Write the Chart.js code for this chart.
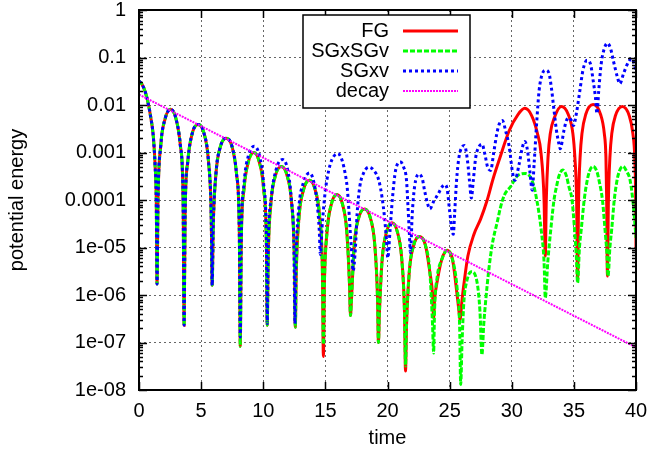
<!DOCTYPE html>
<html lang="en">
<head>
  <meta charset="UTF-8" />
  <title>potential energy vs time</title>
  <script src="https://cdn.jsdelivr.net/npm/chart.js"></script>
  <style>
    html, body {
      margin: 0;
      padding: 0;
      background: #fff;
    }
    #chart-container {
      width: 650px;
      height: 453px;
    }
  </style>
</head>
<body>
  <div id="chart-container">
    <canvas id="energyChart"></canvas>
  </div>

  <script>
    // values (time, potential energy)
    const fgTime = [
      0, 0.25, 0.5, 0.75, 0.95, 1.15, 1.3, 1.39, 1.45,
      1.53, 1.75, 2.1, 2.54, 2.98, 3.33, 3.55, 3.63,
      3.71, 3.93, 4.28, 4.76, 5.24, 5.59, 5.81, 5.89,
      5.97, 6.19, 6.54, 7.02, 7.5, 7.85, 8.07, 8.15,
      8.23, 8.45, 8.8, 9.24, 9.68, 10.03, 10.25, 10.32,
      10.4, 10.62, 10.97, 11.45, 11.93, 12.28, 12.5, 12.58,
      12.66, 12.88, 13.23, 13.71, 14.19, 14.54, 14.76, 14.84,
      14.92, 15.14, 15.49, 15.93, 16.37, 16.72, 16.94, 17.02,
      17.1, 17.32, 17.67, 18.15, 18.63, 18.98, 19.2, 19.27,
      19.35, 19.57, 19.92, 20.36, 20.8, 21.15, 21.37, 21.45,
      21.53, 21.75, 22.1, 22.58, 23.06, 23.41, 23.63, 23.71,
      23.79, 24.01, 24.36, 24.8, 25.24, 25.5, 25.75, 25.83,
      26.0, 26.15, 26.47, 26.96, 27.5, 28.0, 28.5, 29.0, 29.8, 30.5, 31.05, 31.6, 32.07, 32.35, 32.6, 32.7,
      32.78, 32.92, 33.1, 33.45, 34.0, 34.55, 34.92, 35.08, 35.22, 35.3,
      35.38, 35.5, 35.65, 35.95, 36.55, 37.15, 37.45, 37.58, 37.64, 37.7,
      37.78, 37.9, 38.05, 38.35, 38.9, 39.45, 39.75, 39.9, 39.97, 40
    ];
    const fgEnergy = [
      3.2e-2, 2.7e-2, 1.9e-2, 1.05e-2, 5.4e-3, 2.2e-3, 5.0e-4, 1.0e-4, 1.7e-6,
      1.0e-4, 1.4e-3, 5.1e-3, 8.1e-3, 5.1e-3, 1.4e-3, 1.0e-4, 2.3e-7,
      4.9e-5, 6.6e-4, 2.5e-3, 3.9e-3, 2.5e-3, 6.6e-4, 4.9e-5, 1.6e-6,
      2.6e-5, 3.5e-4, 1.3e-3, 2.0e-3, 1.3e-3, 3.5e-4, 2.6e-5, 8.3e-8,
      1.3e-5, 1.7e-4, 6.3e-4, 1.0e-3, 6.3e-4, 1.7e-4, 1.3e-5, 2.3e-7,
      6.5e-6, 8.7e-5, 3.2e-4, 5.1e-4, 3.2e-4, 8.7e-5, 6.5e-6, 2.1e-7,
      3.2e-6, 4.4e-5, 1.6e-4, 2.6e-4, 1.6e-4, 4.4e-5, 3.2e-6, 5.1e-8,
      1.7e-6, 2.2e-5, 8.3e-5, 1.3e-4, 8.3e-5, 2.2e-5, 1.7e-6, 3.7e-7,
      8.1e-7, 1.1e-5, 4.1e-5, 6.5e-5, 4.1e-5, 1.1e-5, 8.1e-7, 1.0e-7,
      4.2e-7, 5.6e-6, 2.1e-5, 3.3e-5, 2.1e-5, 5.6e-6, 4.2e-7, 2.5e-8,
      2.2e-7, 3.0e-6, 1.1e-5, 1.7e-5, 1.1e-5, 3.0e-6, 1.0e-6, 3.3e-7,
      7.9e-7, 2.0e-6, 5.5e-6, 8.7e-6, 5.5e-6, 1.7e-6, 4.6e-7, 3.0e-7,
      7.9e-7, 1.7e-6, 6.6e-6, 1.9e-5, 4.0e-5, 9.5e-5, 2.8e-4, 7.1e-4, 2.9e-3, 6.3e-3, 8.5e-3, 6.0e-3, 2.5e-3, 1.0e-3, 1.0e-4, 6.6e-6,
      1.0e-4, 7.9e-4, 2.5e-3, 5.6e-3, 9.3e-3, 6.3e-3, 2.5e-3, 7.9e-4, 1.0e-4, 2.0e-6,
      1.0e-4, 7.9e-4, 2.5e-3, 6.3e-3, 1.02e-2, 6.3e-3, 2.5e-3, 7.9e-4, 1.0e-4, 2.5e-6,
      1.0e-4, 7.9e-4, 2.5e-3, 6.0e-3, 9.3e-3, 6.0e-3, 2.5e-3, 7.9e-4, 1.26e-4, 1.0e-5
    ];

    const sgsgTime = [
      0, 0.25, 0.5, 0.75, 0.95, 1.15, 1.3, 1.39, 1.45,
      1.53, 1.75, 2.1, 2.54, 2.98, 3.33, 3.55, 3.63,
      3.71, 3.93, 4.28, 4.76, 5.24, 5.59, 5.81, 5.89,
      5.97, 6.19, 6.54, 7.02, 7.5, 7.85, 8.07, 8.15,
      8.23, 8.45, 8.8, 9.24, 9.68, 10.03, 10.25, 10.32,
      10.4, 10.62, 10.97, 11.45, 11.93, 12.28, 12.5, 12.58,
      12.66, 12.88, 13.23, 13.71, 14.19, 14.54, 14.76, 14.84,
      14.92, 15.14, 15.49, 15.93, 16.37, 16.72, 16.94, 17.02,
      17.1, 17.32, 17.67, 18.15, 18.63, 18.98, 19.2, 19.27,
      19.35, 19.57, 19.92, 20.36, 20.8, 21.15, 21.37, 21.45,
      21.53, 21.75, 22.1, 22.58, 23.06, 23.41, 23.63, 23.71,
      23.79, 24.01, 24.36, 24.8, 25.24, 25.59, 25.81, 25.89,
      26.0, 26.15, 26.37, 26.75, 27.2, 27.44, 27.6,
      27.75, 27.9, 28.17, 28.44, 28.85, 29.1, 29.4, 29.9, 30.45, 31.1, 31.65, 32.05, 32.4, 32.6, 32.7,
      32.9, 33.15, 33.4, 33.6, 33.8, 34.1, 34.4, 34.6, 34.85, 35.05, 35.2, 35.3,
      35.45, 35.6, 35.83, 36.05, 36.25, 36.55, 36.85, 37.05, 37.3, 37.5, 37.65, 37.75,
      37.9, 38.05, 38.25, 38.45, 38.65, 38.95, 39.25, 39.5, 39.7, 39.85, 40
    ];
    const sgsgEnergy = [
      3.2e-2, 2.7e-2, 1.9e-2, 1.05e-2, 5.4e-3, 2.2e-3, 5.0e-4, 1.0e-4, 1.7e-6,
      1.0e-4, 1.4e-3, 5.1e-3, 8.1e-3, 5.1e-3, 1.4e-3, 1.0e-4, 2.3e-7,
      4.9e-5, 6.6e-4, 2.5e-3, 3.9e-3, 2.5e-3, 6.6e-4, 4.9e-5, 1.6e-6,
      2.6e-5, 3.5e-4, 1.3e-3, 2.0e-3, 1.3e-3, 3.5e-4, 2.6e-5, 8.3e-8,
      1.3e-5, 1.7e-4, 6.3e-4, 1.0e-3, 6.3e-4, 1.7e-4, 1.3e-5, 2.3e-7,
      6.5e-6, 8.7e-5, 3.2e-4, 5.1e-4, 3.2e-4, 8.7e-5, 6.5e-6, 2.1e-7,
      3.2e-6, 4.4e-5, 1.6e-4, 2.6e-4, 1.6e-4, 4.4e-5, 3.2e-6, 9.1e-8,
      1.7e-6, 2.2e-5, 8.3e-5, 1.3e-4, 8.3e-5, 2.2e-5, 1.7e-6, 3.7e-7,
      8.1e-7, 1.1e-5, 4.1e-5, 6.5e-5, 4.1e-5, 1.1e-5, 8.1e-7, 1.0e-7,
      4.2e-7, 5.6e-6, 2.1e-5, 3.3e-5, 2.1e-5, 5.6e-6, 4.2e-7, 3.2e-8,
      2.2e-7, 3.0e-6, 1.1e-5, 1.7e-5, 1.1e-5, 3.0e-6, 2.2e-7, 6.0e-8,
      5.0e-7, 2.5e-6, 5.5e-6, 8.7e-6, 5.5e-6, 1.5e-6, 2.0e-7, 1.3e-8,
      1.0e-7, 7.4e-7, 1.9e-6, 3.1e-6, 1.9e-6, 4.6e-7, 5.5e-8,
      2.5e-7, 7.4e-7, 3.7e-6, 1.2e-5, 3.6e-5, 7.1e-5, 1.26e-4, 1.9e-4, 3.2e-4, 3.6e-4, 2.5e-4, 8.9e-5, 2.0e-5, 5.0e-6, 8.7e-7,
      5.0e-6, 2.5e-5, 1.0e-4, 1.9e-4, 3.2e-4, 4.3e-4, 3.2e-4, 1.9e-4, 1.0e-4, 2.5e-5, 6.3e-6, 1.8e-6,
      1.0e-5, 2.5e-5, 1.0e-4, 2.4e-4, 4.0e-4, 5.1e-4, 4.0e-4, 2.4e-4, 1.0e-4, 2.5e-5, 7.9e-6, 2.5e-6,
      1.0e-5, 2.5e-5, 1.0e-4, 2.4e-4, 4.0e-4, 5.1e-4, 4.0e-4, 2.8e-4, 1.26e-4, 5.0e-5, 1.6e-5
    ];

    const sgxvTime = [
      0, 0.25, 0.5, 0.75, 0.95, 1.15, 1.3, 1.39, 1.45,
      1.53, 1.75, 2.1, 2.54, 2.98, 3.33, 3.55, 3.63,
      3.71, 3.93, 4.28, 4.76, 5.24, 5.59, 5.81, 5.89,
      5.97, 6.19, 6.54, 7.02, 7.5, 7.85, 8.07, 8.15,
      8.23, 8.45, 8.8, 9.27, 9.7, 10.03, 10.25, 10.32,
      10.4, 10.65, 11.05, 11.55, 11.95, 12.25, 12.47, 12.55,
      12.63, 12.85, 13.25, 13.75, 14.1, 14.35, 14.5, 14.6,
      14.73, 14.86, 15.0, 15.27, 15.54, 16.0, 16.35, 16.6, 16.75, 16.88, 17.0, 17.15, 17.23,
      17.42, 17.55, 17.77, 18.1, 18.5, 18.9, 19.3, 19.57, 19.76, 19.92, 20.02,
      20.2, 20.4, 20.65, 21.05, 21.3, 21.53, 21.64, 21.75, 21.85,
      21.99, 22.18, 22.53, 22.8, 22.98, 23.2, 23.41,
      23.73, 24.05, 24.4, 24.6, 24.8, 25.0, 25.2, 25.3,
      25.4, 25.56, 25.75, 26.0, 26.2, 26.45, 26.6, 26.75, 26.9, 27.1, 27.35, 27.6, 27.85, 28.05, 28.3,
      28.55, 28.8, 29.0, 29.25, 29.5, 29.8, 30.05, 30.25, 30.6, 30.86, 31.05, 31.27, 31.45, 31.65,
      31.8, 32.0, 32.2, 32.47, 32.74, 33.0, 33.2, 33.4, 33.6, 33.8, 33.9,
      34.2, 34.4, 34.6, 34.8, 34.97, 35.2, 35.48, 35.73, 36.05, 36.33, 36.55, 36.73, 36.86,
      37.0, 37.2, 37.4, 37.7, 37.95, 38.2, 38.5, 38.7, 39.0, 39.4, 39.65, 40
    ];
    const sgxvEnergy = [
      3.2e-2, 2.7e-2, 1.9e-2, 1.05e-2, 5.4e-3, 2.2e-3, 5.0e-4, 1.0e-4, 1.7e-6,
      1.0e-4, 1.4e-3, 5.1e-3, 8.1e-3, 5.1e-3, 1.4e-3, 1.0e-4, 2.3e-7,
      4.9e-5, 6.6e-4, 2.5e-3, 3.9e-3, 2.5e-3, 6.6e-4, 4.9e-5, 1.6e-6,
      2.6e-5, 3.5e-4, 1.3e-3, 2.0e-3, 1.3e-3, 3.5e-4, 2.6e-5, 1.3e-7,
      1.6e-5, 2.2e-4, 8.5e-4, 1.35e-3, 8.5e-4, 2.2e-4, 1.6e-5, 2.5e-7,
      1.0e-5, 1.1e-4, 4.5e-4, 7.1e-4, 4.5e-4, 1.1e-4, 1.0e-5, 2.5e-7,
      5.0e-6, 6.3e-5, 2.4e-4, 3.7e-4, 2.2e-4, 7.9e-5, 2.5e-5, 7.1e-6,
      2.6e-5, 6.9e-5, 1.6e-4, 4.2e-4, 7.2e-4, 9.5e-4, 6.8e-4, 3.5e-4, 1.9e-4, 6.9e-5, 2.2e-5, 6.0e-6, 3.2e-6,
      1.0e-5, 5.0e-5, 1.9e-4, 3.8e-4, 4.9e-4, 4.2e-4, 2.6e-4, 1.1e-4, 4.3e-5, 1.4e-5, 6.0e-6,
      2.2e-5, 1.1e-4, 4.2e-4, 6.3e-4, 4.9e-4, 2.6e-4, 8.1e-5, 2.2e-5, 7.8e-6,
      5.0e-5, 1.9e-4, 3.5e-4, 2.8e-4, 1.6e-4, 8.9e-5, 6.5e-5,
      9.5e-5, 1.3e-4, 1.9e-4, 2.1e-4, 1.7e-4, 5.9e-5, 2.2e-5, 1.9e-5,
      5.0e-5, 2.6e-4, 7.9e-4, 1.3e-3, 1.4e-3, 6.3e-4, 2.5e-4, 1.1e-4, 2.5e-4, 7.9e-4, 1.3e-3, 1.5e-3, 8.9e-4, 5.0e-4, 4.2e-4,
      1.0e-3, 2.5e-3, 4.0e-3, 4.7e-3, 2.9e-3, 1.3e-3, 4.0e-4, 2.6e-4, 5.8e-4, 1.3e-3, 1.7e-3, 1.1e-3, 4.2e-4, 1.6e-4,
      5.8e-4, 4.0e-3, 2.0e-2, 4.6e-2, 5.4e-2, 4.6e-2, 2.2e-2, 7.8e-3, 2.9e-3, 1.5e-3, 1.2e-3,
      2.9e-3, 4.7e-3, 5.4e-3, 4.7e-3, 3.7e-3, 6.6e-3, 2.0e-2, 5.4e-2, 8.7e-2, 7.4e-2, 3.3e-2, 1.5e-2, 6.6e-3,
      2.0e-2, 7.4e-2, 0.14, 0.2, 0.155, 8.1e-2, 3.9e-2, 2.8e-2, 4.6e-2, 8.1e-2, 9.5e-2, 5.4e-2
    ];

    const decayTime = [0, 40];
    const decayEnergy = [1.66e-2, 7.9e-8];

    const seriesNames = ['FG', 'SGxSGv', 'SGxv', 'decay'];
    const yTickValues = [1, 0.1, 0.01, 0.001, 1e-4, 1e-5, 1e-6, 1e-7, 1e-8];
    const yTickLabels = ['1', '0.1', '0.01', '0.001', '0.0001', '1e-05', '1e-06', '1e-07', '1e-08'];

    const toPoints = (ts, es) => ts.map((t, i) => ({ x: t, y: es[i] }));

    Chart.defaults.font.family = "'Liberation Sans', Arial, sans-serif";
    Chart.defaults.font.size = 20;
    Chart.defaults.color = '#000';

    // gnuplot style frame: border, inward tics, boxed key
    const gnuplotFrame = {
      id: 'gnuplotFrame',
      afterDatasetsDraw(chart) {
        const { ctx, chartArea: a, scales: { x, y } } = chart;
        ctx.save();
        ctx.strokeStyle = '#000';
        ctx.lineWidth = 1.5;
        ctx.setLineDash([]);
        ctx.beginPath();
        for (let e = -8; e <= 0; e++) {
          for (let m = 1; m <= 9; m++) {
            const v = m * Math.pow(10, e);
            if (v > 1) break;
            const py = Math.round(y.getPixelForValue(v)) + 0.5;
            const len = m === 1 ? 8 : 4;
            ctx.moveTo(a.left, py); ctx.lineTo(a.left + len, py);
            ctx.moveTo(a.right, py); ctx.lineTo(a.right - len, py);
          }
        }
        x.ticks.forEach(t => {
          const px = Math.round(x.getPixelForValue(t.value)) + 0.5;
          ctx.moveTo(px, a.bottom); ctx.lineTo(px, a.bottom - 8);
          ctx.moveTo(px, a.top); ctx.lineTo(px, a.top + 8);
        });
        ctx.stroke();
        ctx.lineWidth = 2;
        ctx.strokeRect(a.left, a.top, a.right - a.left, a.bottom - a.top);

        // key box
        const bx = a.left + 164, by = a.top + 5, bw = 167, bh = 93;
        ctx.fillStyle = '#fff';
        ctx.fillRect(bx, by, bw, bh);
        ctx.lineWidth = 1.5;
        ctx.strokeRect(bx, by, bw, bh);
        ctx.font = "20px 'Liberation Sans', Arial, sans-serif";
        ctx.textAlign = 'right';
        ctx.textBaseline = 'middle';
        chart.data.datasets.forEach((ds, i) => {
          const ly = by + 16 + i * 20;
          ctx.fillStyle = '#000';
          ctx.fillText(ds.label, bx + 86, ly);
          ctx.strokeStyle = ds.borderColor;
          ctx.lineWidth = ds.borderWidth;
          ctx.setLineDash(ds.borderDash || []);
          ctx.beginPath();
          ctx.moveTo(bx + 100, ly);
          ctx.lineTo(bx + 155, ly);
          ctx.stroke();
        });
        ctx.restore();
      }
    };

    const ctx = document.getElementById('energyChart').getContext('2d');
    const chart = new Chart(ctx, {
      type: 'line',
      data: {
        datasets: [
          {
            label: seriesNames[0],
            data: toPoints(fgTime, fgEnergy),
            borderColor: '#ff0000',
            borderWidth: 3,
            order: 3
          },
          {
            label: seriesNames[1],
            data: toPoints(sgsgTime, sgsgEnergy),
            borderColor: '#00ff00',
            borderWidth: 3,
            borderDash: [5, 2],
            order: 2
          },
          {
            label: seriesNames[2],
            data: toPoints(sgxvTime, sgxvEnergy),
            borderColor: '#0000ff',
            borderWidth: 3,
            borderDash: [3, 3],
            order: 1
          },
          {
            label: seriesNames[3],
            data: toPoints(decayTime, decayEnergy),
            borderColor: '#ff00ff',
            borderWidth: 2,
            borderDash: [2, 1],
            order: 0
          }
        ]
      },
      options: {
        responsive: true,
        maintainAspectRatio: false,
        animation: false,
        events: [],
        layout: { padding: { top: 10, right: 14, bottom: 0, left: 0 } },
        elements: {
          point: { radius: 0 },
          line: { cubicInterpolationMode: 'monotone', fill: false, borderCapStyle: 'butt' }
        },
        plugins: {
          legend: { display: false },
          tooltip: { enabled: false }
        },
        scales: {
          x: {
            type: 'linear',
            min: 0,
            max: 40,
            ticks: { stepSize: 5, padding: 9, maxRotation: 0 },
            grid: { color: 'rgba(0,0,0,0.6)', lineWidth: 1, drawTicks: false },
            border: { display: false, dash: [2, 3] },
            title: { display: true, text: 'time', padding: { top: 0, bottom: 3 } },
            afterFit: s => { s.height = 63; s.paddingLeft = 0; s.paddingRight = 0; }
          },
          y: {
            type: 'logarithmic',
            min: 1e-8,
            max: 1,
            afterBuildTicks: s => { s.ticks = yTickValues.map(v => ({ value: v })); },
            ticks: {
              autoSkip: false,
              padding: 13,
              callback: (v, i) => yTickLabels[i]
            },
            grid: { color: 'rgba(0,0,0,0.6)', lineWidth: 1, drawTicks: false },
            border: { display: false, dash: [2, 3] },
            title: { display: true, text: 'potential energy', padding: { top: 5, bottom: 0 } },
            afterFit: s => { s.width = 139; s.paddingTop = 0; s.paddingBottom = 0; }
          }
        }
      },
      plugins: [gnuplotFrame]
    });
  </script>
</body>
</html>
